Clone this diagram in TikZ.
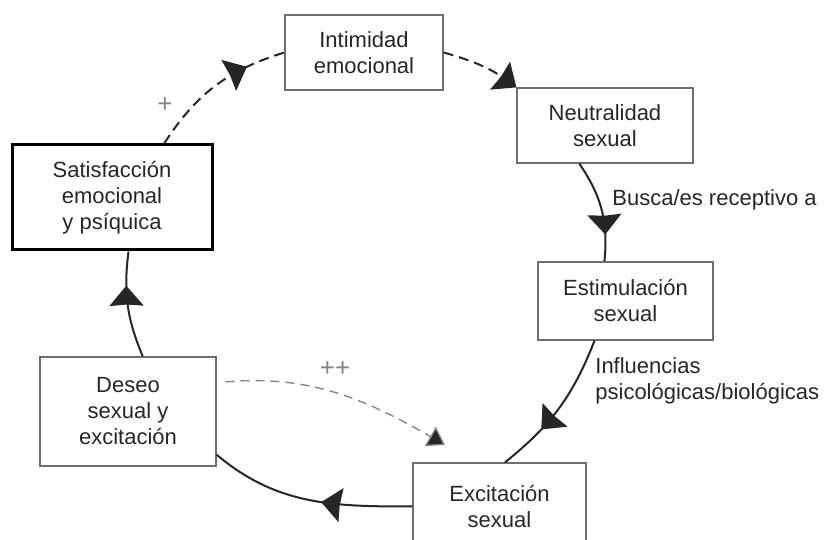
\documentclass[tikz,border=0pt]{standalone}
\usepackage{fontspec}
\setmainfont{Liberation Sans}
\usetikzlibrary{arrows.meta,decorations.markings}
\definecolor{boxgray}{HTML}{6E6E6E}
\definecolor{inkgray}{HTML}{262626}
\definecolor{lightink}{HTML}{858585}
\tikzset{
  stage/.style={draw=boxgray, line width=0.6pt, text=inkgray, align=center, inner sep=0pt,
    font=\fontsize{11}{13}\selectfont},
  flow/.style={draw=inkgray, line width=1pt},
  hintline/.style={draw=lightink, line width=0.7pt, dash pattern=on 4.5pt off 3pt},
  bighead/.tip={Stealth[length=10pt,width=17pt,inset=0.6pt]},
  midarrow/.style={postaction={decorate}, decoration={markings,
    mark=at position #1 with {\pgfsetdash{}{0pt}\arrow{bighead}}}},
  note/.style={text=inkgray, align=left, anchor=west, inner sep=0pt, font=\fontsize{11}{13}\selectfont}
}

\begin{document}
\begin{tikzpicture}[x=0.5pt,y=0.5pt]
        \clip (0,0) rectangle (827,540);
        %nodes
        \node[stage, minimum width=79pt, minimum height=37.5pt] (intim) at (364,487.5) {Intimidad\\emocional};
        \node[stage, minimum width=88pt, minimum height=37.5pt] (neutr) at (605,414.5) {Neutralidad\\sexual};
        \node[stage, draw=black, line width=1.5pt, minimum width=100pt, minimum height=52.5pt] (satis) at (112,342.5) {Satisfacción\\emocional\\y psíquica};
        \node[stage, minimum width=87.5pt, minimum height=39pt] (estim) at (625.5,239) {Estimulación\\sexual};
        \node[stage, minimum width=88pt, minimum height=54.5pt] (deseo) at (128,128.5) {Deseo\\sexual y\\excitación};
        \node[stage, minimum width=86.5pt, minimum height=43.5pt] (excit) at (499.5,33.5) {Excitación\\sexual};
        %labels
        \node[note] (busca) at (612,340) {Busca/es receptivo a};
        \node[note] (influ) at (595,159) {Influencias\\psicológicas/biológicas};
        \node[text=lightink, font=\fontsize{13}{13}\selectfont] (plus) at (165,435) {+};
        \node[text=lightink, font=\fontsize{13}{13}\selectfont] (plusplus) at (335,171) {++};
        \coordinate (hint) at (445,95);
        %edges
        \draw[flow, dash pattern=on 5pt off 3pt, midarrow=0.74] (satis.46) to[bend left=20] (intim.west);
        \draw[flow, dash pattern=on 5pt off 3pt, -bighead] (intim.east) to[bend left=10] (neutr.north west);
        \draw[flow, midarrow=0.74] (neutr.236) to[bend left=20] (estim.118);
        \draw[flow, midarrow=0.68] (estim.232) to[bend left=15] (excit.83);
        \draw[flow, midarrow=0.44] (excit.west) to[out=180,in=-40] (deseo.-26);
        \draw[flow, midarrow=0.68] (deseo.75) to[bend left=15] (satis.287);
        \draw[hintline, -{Triangle[length=8.5pt,width=11pt,fill=inkgray]}, shorten <=4.5pt] (deseo.18) to[out=5,in=150] (hint);
\end{tikzpicture}
\end{document}
